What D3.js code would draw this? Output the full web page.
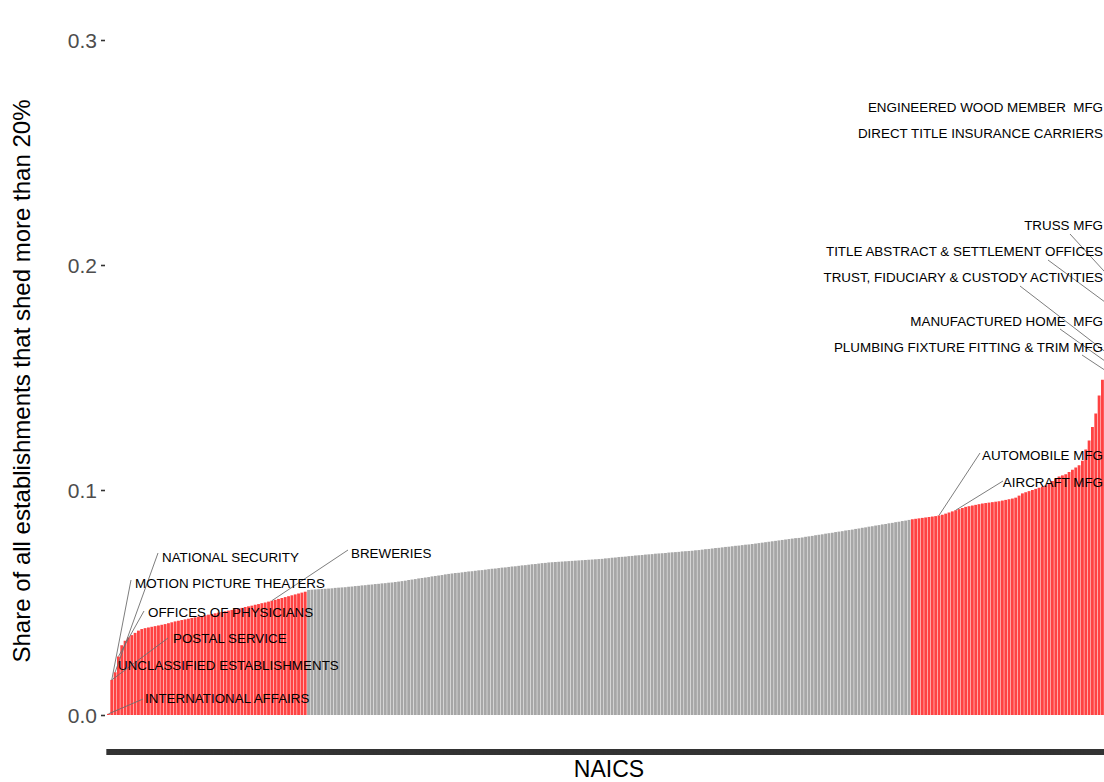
<!DOCTYPE html>
<html>
<head>
<meta charset="utf-8">
<script src="https://cdn.jsdelivr.net/npm/d3@7"></script>
<style>
  body { margin: 0; background: #fff; }
  svg { display: block; font-family: "Liberation Sans", Arial, sans-serif; }
</style>
</head>
<body>
<svg id="chart" width="1104" height="782"></svg>
<script>
// share of establishments shedding > 20%, industries sorted ascending
var lowTail = [
  0.0005, 0.0156, 0.0190, 0.0260, 0.0310, 0.0330, 0.0345, 0.0355, 0.0365, 0.0375,
  0.0382, 0.0386, 0.0389, 0.0392, 0.0395, 0.0398, 0.0401, 0.0404, 0.0408, 0.0412,
  0.0416, 0.0419, 0.0422, 0.0425, 0.0428, 0.0431, 0.0434, 0.0437, 0.0440, 0.0443,
  0.0446, 0.0449, 0.0452, 0.0455, 0.0458, 0.0461, 0.0464, 0.0467, 0.0470, 0.0473,
  0.0476, 0.0480, 0.0483, 0.0486, 0.0490, 0.0493, 0.0497, 0.0500, 0.0504, 0.0508,
  0.0512, 0.0516, 0.0520, 0.0524, 0.0528, 0.0532, 0.0536, 0.0540, 0.0544, 0.0548
];
var middle = [
  0.0556, 0.0557, 0.0558, 0.0559, 0.0560, 0.0561, 0.0562, 0.0563, 0.0565, 0.0566, 0.0567, 0.0568, 0.0570,
  0.0571, 0.0573, 0.0574, 0.0576, 0.0577, 0.0579, 0.0580, 0.0582, 0.0583, 0.0585, 0.0586, 0.0588, 0.0589, 0.0591, 0.0593,
  0.0595, 0.0597, 0.0600, 0.0602, 0.0604, 0.0607, 0.0609, 0.0611, 0.0613, 0.0616, 0.0618, 0.0620, 0.0622, 0.0625, 0.0627,
  0.0629, 0.0631, 0.0632, 0.0634, 0.0636, 0.0638, 0.0639, 0.0641, 0.0643, 0.0644, 0.0646, 0.0648, 0.0650, 0.0651, 0.0653,
  0.0655, 0.0656, 0.0658, 0.0660, 0.0661, 0.0663, 0.0665, 0.0666, 0.0668, 0.0670, 0.0671, 0.0673, 0.0675, 0.0676, 0.0678,
  0.0679, 0.0680, 0.0681, 0.0682, 0.0683, 0.0684, 0.0685, 0.0686, 0.0687, 0.0688, 0.0689, 0.0690, 0.0691, 0.0692, 0.0693,
  0.0694, 0.0696, 0.0697, 0.0699, 0.0700, 0.0702, 0.0703, 0.0704, 0.0706, 0.0707, 0.0709, 0.0710, 0.0711, 0.0713, 0.0714,
  0.0715, 0.0717, 0.0718, 0.0719, 0.0720, 0.0722, 0.0723, 0.0724, 0.0725, 0.0727, 0.0728, 0.0729, 0.0730, 0.0732, 0.0733,
  0.0735, 0.0737, 0.0738, 0.0740, 0.0742, 0.0743, 0.0745, 0.0747, 0.0748, 0.0750, 0.0752, 0.0753, 0.0755, 0.0757, 0.0758,
  0.0760, 0.0762, 0.0764, 0.0766, 0.0768, 0.0770, 0.0772, 0.0774, 0.0776, 0.0778, 0.0780, 0.0782, 0.0784, 0.0786, 0.0787,
  0.0789, 0.0792, 0.0794, 0.0796, 0.0799, 0.0801, 0.0803, 0.0806, 0.0808, 0.0810, 0.0813, 0.0815, 0.0817, 0.0820, 0.0822,
  0.0824, 0.0827, 0.0829, 0.0832, 0.0834, 0.0837, 0.0839, 0.0842, 0.0844, 0.0847, 0.0849, 0.0852, 0.0854, 0.0857, 0.0859,
  0.0862, 0.0864, 0.0867
];
var highTail = [
  0.0870, 0.0872, 0.0874, 0.0876, 0.0878, 0.0880, 0.0882, 0.0884, 0.0887, 0.0890,
  0.0895, 0.0900, 0.0905, 0.0910, 0.0915, 0.0920, 0.0925, 0.0928, 0.0931, 0.0934,
  0.0937, 0.0940, 0.0942, 0.0944, 0.0946, 0.0948, 0.0950, 0.0953, 0.0956, 0.0959,
  0.0962, 0.0966, 0.0975, 0.0985, 0.0990, 0.0995, 0.1000, 0.1005, 0.1010, 0.1015,
  0.1020, 0.1030, 0.1040, 0.1050, 0.1060, 0.1065, 0.1070, 0.1080, 0.1090, 0.1100,
  0.1110, 0.1130, 0.1180, 0.1220, 0.1280, 0.1340, 0.1420, 0.1490,
  0.1530, 0.1560, 0.1590, 0.1800, 0.1900, 0.2550, 0.2700
];

// labelled industries, by rank in the sorted list
var labelNames = [
  "INTERNATIONAL AFFAIRS", "UNCLASSIFIED ESTABLISHMENTS", "POSTAL SERVICE",
  "OFFICES OF PHYSICIANS", "MOTION PICTURE THEATERS", "NATIONAL SECURITY",
  "BREWERIES", "AUTOMOBILE MFG", "AIRCRAFT MFG",
  "PLUMBING FIXTURE FITTING & TRIM MFG", "MANUFACTURED HOME  MFG",
  "TRUST, FIDUCIARY & CUSTODY ACTIVITIES", "TITLE ABSTRACT & SETTLEMENT OFFICES",
  "TRUSS MFG", "DIRECT TITLE INSURANCE CARRIERS", "ENGINEERED WOOD MEMBER  MFG"
];
var labelRanks = [0, 2, 1, 3, 1, 2, 49, 249, 254, 299, 300, 301, 302, 303, 304, 305];

var yTicks = [0, 0.1, 0.2, 0.3];

// where each repelled label sits: text x, baseline y, anchor, segment start
var labelLayout = [
  { x: 145, y: 703, anchor: "start", sx: 143, sy: 699 },
  { x: 118, y: 670, anchor: "start", sx: null },
  { x: 173, y: 643, anchor: "start", sx: 168, sy: 638 },
  { x: 148, y: 617, anchor: "start", sx: 144, sy: 611 },
  { x: 135, y: 588, anchor: "start", sx: 131, sy: 580 },
  { x: 162, y: 562, anchor: "start", sx: 158, sy: 553 },
  { x: 351, y: 558, anchor: "start", sx: 348, sy: 550 },
  { x: 1103, y: 460, anchor: "end", sx: 980, sy: 453 },
  { x: 1103, y: 487, anchor: "end", sx: 1003, sy: 481 },
  { x: 1103, y: 352, anchor: "end", sx: 1082, sy: 355 },
  { x: 1103, y: 326, anchor: "end", sx: 1060, sy: 329 },
  { x: 1103, y: 282, anchor: "end", sx: 1020, sy: 286 },
  { x: 1103, y: 256, anchor: "end", sx: 1048, sy: 260 },
  { x: 1103, y: 230, anchor: "end", sx: 1070, sy: 234 },
  { x: 1103, y: 138, anchor: "end", sx: null },
  { x: 1103, y: 112, anchor: "end", sx: null }
];

var bars = [];
lowTail.forEach(function(v) { bars.push({ value: v, group: "low" }); });
middle.forEach(function(v) { bars.push({ value: v, group: "mid" }); });
highTail.forEach(function(v) { bars.push({ value: v, group: "high" }); });
bars.forEach(function(d, i) { d.rank = i; });

var svg = d3.select("#chart");
var left = 107, step = 3.334;

var x = d3.scaleBand()
  .domain(d3.range(bars.length))
  .range([left, left + step * bars.length])
  .paddingInner(0.15)
  .paddingOuter(0);

var y = d3.scaleLinear().domain([0, 0.3]).range([715, 40]);

var fillFor = { low: "#ff4242", mid: "#a6a6a6", high: "#ff4242" };

svg.append("g")
  .selectAll("rect")
  .data(bars)
  .enter()
  .append("rect")
  .attr("x", function(d) { return x(d.rank); })
  .attr("width", x.bandwidth())
  .attr("y", function(d) { return y(d.value); })
  .attr("height", function(d) { return y(0) - y(d.value); })
  .attr("fill", function(d) { return fillFor[d.group]; });

// y axis
var yAxis = svg.append("g")
  .attr("transform", "translate(" + (left - 2) + ",0)")
  .call(d3.axisLeft(y).tickValues(yTicks).tickFormat(d3.format(".1f")).tickSize(4).tickPadding(4));
yAxis.select(".domain").remove();
yAxis.selectAll(".tick line").attr("stroke", "#333").attr("stroke-width", 1.6);
yAxis.selectAll(".tick text")
  .attr("fill", "#4d4d4d")
  .attr("dy", "0.36em")
  .style("font-size", "21px")
  .style("font-family", "'Liberation Sans', Arial, sans-serif");

// x axis: one tick per industry, no labels
var xAxis = svg.append("g")
  .attr("transform", "translate(0,749)")
  .call(d3.axisBottom(x).tickFormat("").tickSize(6));
xAxis.select(".domain").remove();
xAxis.selectAll(".tick line").attr("stroke", "#333").attr("stroke-width", 4.2);

svg.append("text")
  .attr("x", 609)
  .attr("y", 777)
  .attr("text-anchor", "middle")
  .style("font-size", "23px")
  .text("NAICS");

svg.append("text")
  .attr("transform", "translate(30,381) rotate(-90)")
  .attr("text-anchor", "middle")
  .style("font-size", "24px")
  .text("Share of all establishments that shed more than 20%");

// label segments and text
var labels = labelNames.map(function(name, i) {
  return { name: name, rank: labelRanks[i], pos: labelLayout[i] };
});

svg.append("g")
  .selectAll("line")
  .data(labels.filter(function(d) { return d.pos.sx !== null; }))
  .enter()
  .append("line")
  .attr("x1", function(d) { return d.pos.sx; })
  .attr("y1", function(d) { return d.pos.sy; })
  .attr("x2", function(d) { return x(d.rank) + x.bandwidth() / 2; })
  .attr("y2", function(d) { return y(bars[d.rank].value); })
  .attr("stroke", "#6e6e6e")
  .attr("stroke-width", 0.9);

svg.append("g")
  .selectAll("text")
  .data(labels)
  .enter()
  .append("text")
  .attr("x", function(d) { return d.pos.x; })
  .attr("y", function(d) { return d.pos.y; })
  .attr("text-anchor", function(d) { return d.pos.anchor; })
  .style("font-size", "13.4px")
  .style("white-space", "pre")
  .attr("fill", "#000")
  .text(function(d) { return d.name; });
</script>
</body>
</html>
